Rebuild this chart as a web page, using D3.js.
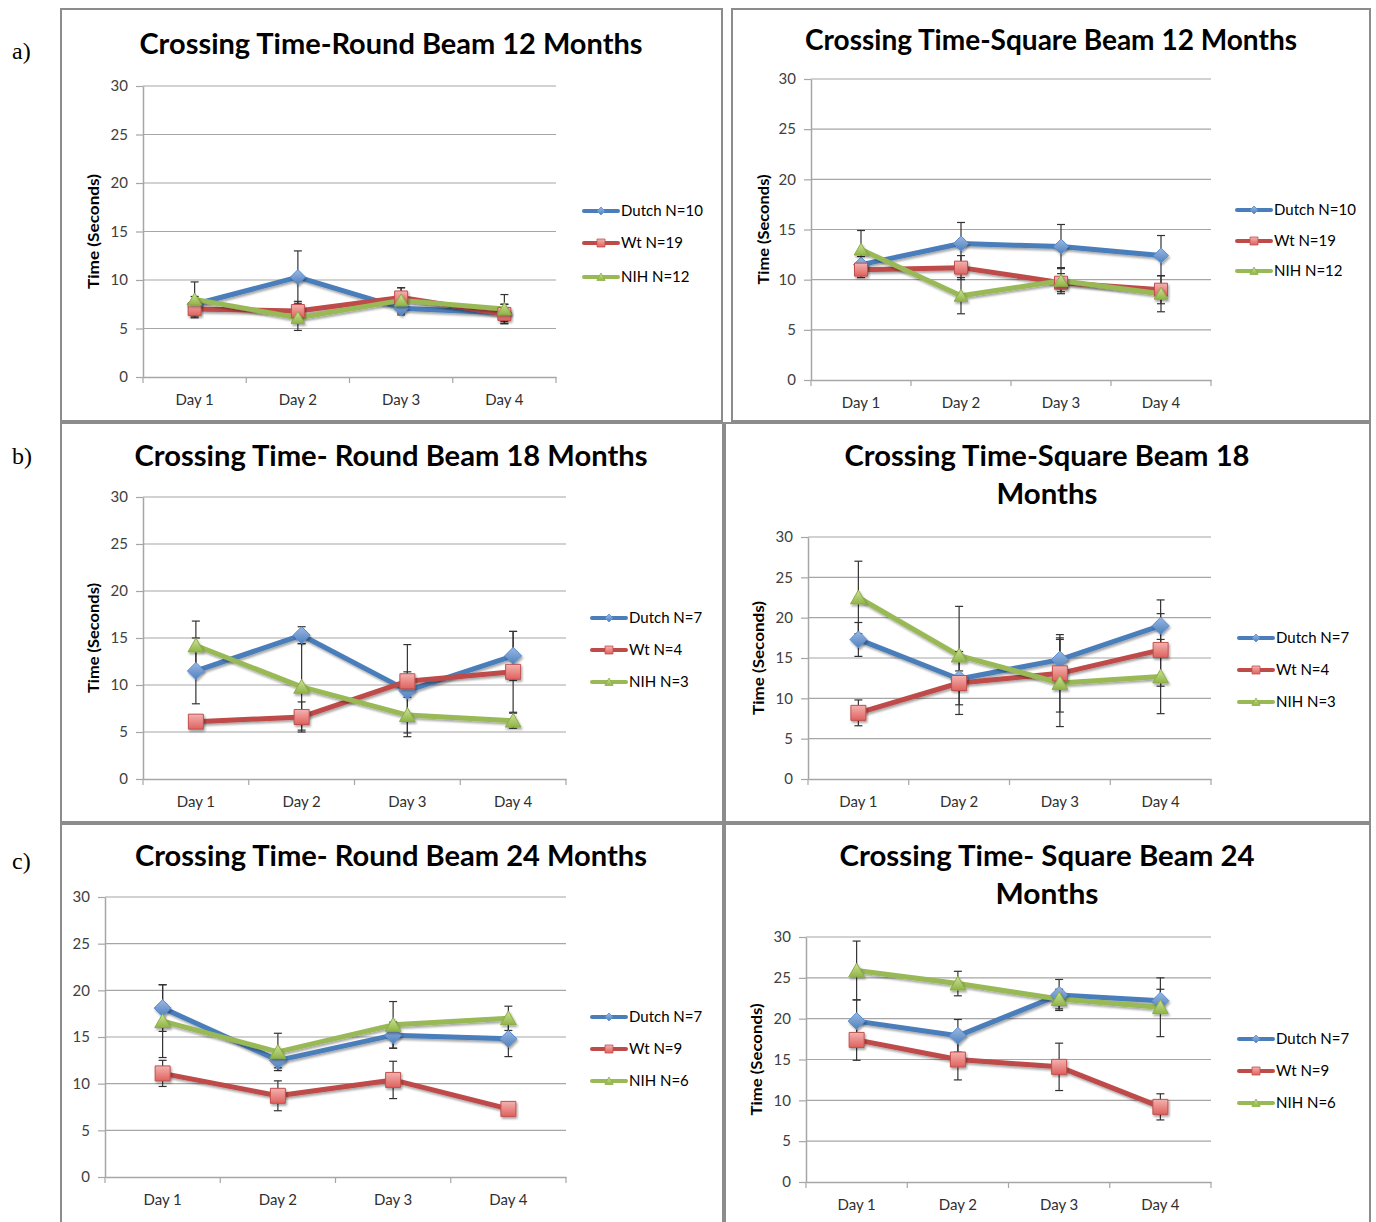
<!DOCTYPE html>
<html>
<head>
<meta charset="utf-8">
<script src="https://cdn.jsdelivr.net/npm/d3@7"></script>
<style>
  html, body { margin: 0; padding: 0; background: #fff; }
  svg { display: block; }
</style>
</head>
<body>
<svg id="chart" width="1376" height="1222"></svg>
<script>
// ---------------- DATA ----------------
const days = ["Day 1", "Day 2", "Day 3", "Day 4"];
const yTicks = [0, 5, 10, 15, 20, 25, 30];
const panelLetters = ["a)", "b)", "c)"];

// a) Round beam 12 months
const r12Title = ["Crossing Time-Round Beam 12 Months"];
const r12Legend = ["Dutch N=10", "Wt N=19", "NIH N=12"];
const r12Dutch = [7.5, 10.3, 7.1, 6.6];
const r12DutchErr = [0.8, 2.7, 0.7, 0.9];
const r12Wt = [7.0, 6.8, 8.2, 6.5];
const r12WtErr = [0.9, 1.0, 1.0, 1.0];
const r12Nih = [8.0, 6.1, 7.9, 7.0];
const r12NihErr = [1.8, 1.3, 1.3, 1.5];

// a) Square beam 12 months
const s12Title = ["Crossing Time-Square Beam 12 Months"];
const s12Legend = ["Dutch N=10", "Wt N=19", "NIH N=12"];
const s12Dutch = [11.5, 13.6, 13.3, 12.4];
const s12DutchErr = [0.8, 2.1, 2.2, 2.0];
const s12Wt = [11.0, 11.2, 9.7, 9.0];
const s12WtErr = [0.8, 1.2, 0.9, 1.4];
const s12Nih = [13.0, 8.4, 9.9, 8.6];
const s12NihErr = [1.9, 1.8, 1.3, 1.8];

// b) Round beam 18 months
const r18Title = ["Crossing Time- Round Beam 18 Months"];
const r18Legend = ["Dutch N=7", "Wt N=4", "NIH N=3"];
const r18Dutch = [11.5, 15.3, 9.4, 13.1];
const r18DutchErr = [3.5, 0.9, 4.9, 2.6];
const r18Wt = [6.1, 6.6, 10.4, 11.4];
const r18WtErr = [0.4, 1.6, 1.0, 4.3];
const r18Nih = [14.2, 9.8, 6.8, 6.2];
const r18NihErr = [2.6, 4.6, 1.9, 0.8];

// b) Square beam 18 months
const s18Title = ["Crossing Time-Square Beam 18", "Months"];
const s18Legend = ["Dutch N=7", "Wt N=4", "NIH N=3"];
const s18Dutch = [17.3, 12.4, 14.8, 19.0];
const s18DutchErr = [2.1, 1.0, 2.7, 3.2];
const s18Wt = [8.2, 11.9, 13.1, 16.0];
const s18WtErr = [1.6, 3.9, 4.8, 4.5];
const s18Nih = [22.5, 15.3, 11.9, 12.7];
const s18NihErr = [4.5, 6.1, 5.4, 4.6];

// c) Round beam 24 months
const r24Title = ["Crossing Time- Round Beam 24 Months"];
const r24Legend = ["Dutch N=7", "Wt N=9", "NIH N=6"];
const r24Dutch = [18.1, 12.5, 15.2, 14.8];
const r24DutchErr = [2.5, 0.8, 1.4, 1.9];
const r24Wt = [11.1, 8.7, 10.4, 7.3];
const r24WtErr = [1.4, 1.6, 2.0, 0.4];
const r24Nih = [16.7, 13.4, 16.3, 17.0];
const r24NihErr = [3.9, 2.0, 2.5, 1.3];

// c) Square beam 24 months
const s24Title = ["Crossing Time- Square Beam 24", "Months"];
const s24Legend = ["Dutch N=7", "Wt N=9", "NIH N=6"];
const s24Dutch = [19.7, 17.9, 22.9, 22.2];
const s24DutchErr = [2.6, 2.0, 1.9, 1.4];
const s24Wt = [17.4, 15.0, 14.1, 9.2];
const s24WtErr = [2.5, 2.5, 2.9, 1.6];
const s24Nih = [25.9, 24.3, 22.4, 21.4];
const s24NihErr = [3.6, 1.5, 1.2, 3.6];

const yLabel = "Time (Seconds)";

// ---------------- STYLE ----------------
const FONT = "Lato, 'Open Sans', sans-serif";
const seriesStyle = [
  { key: "dutch", line: "#4a7ebb", shape: "diamond" },
  { key: "wt", line: "#be4b48", shape: "square" },
  { key: "nih", line: "#98b954", shape: "triangle" }
];

const svg = d3.select("#chart");
const defs = svg.append("defs");
const sh = defs.append("filter").attr("id", "shadow")
  .attr("x", "-20%").attr("y", "-20%").attr("width", "140%").attr("height", "160%");
sh.append("feDropShadow").attr("dx", 1.2).attr("dy", 2).attr("stdDeviation", 1.3)
  .attr("flood-color", "#000").attr("flood-opacity", 0.35);

function grad(id, c1, c2) {
  const g = defs.append("linearGradient").attr("id", id)
    .attr("x1", 0).attr("y1", 0).attr("x2", 0).attr("y2", 1);
  g.append("stop").attr("offset", "0%").attr("stop-color", c1);
  g.append("stop").attr("offset", "100%").attr("stop-color", c2);
}
grad("g-dutch", "#9ab8e3", "#4f81bd");
grad("g-wt", "#f3b3b1", "#e0615d");
grad("g-nih", "#cfe39b", "#90b446");
const markerFill = { dutch: "url(#g-dutch)", wt: "url(#g-wt)", nih: "url(#g-nih)" };
const markerStroke = { dutch: "#5b8ed0", wt: "#c0504d", nih: "#8aae45" };

function shapePath(shape, s) {
  const h = s / 2;
  if (shape === "diamond") return `M0,${-h}L${h},0L0,${h}L${-h},0Z`;
  if (shape === "square") return `M${-h},${-h}H${h}V${h}H${-h}Z`;
  return `M0,${-h * 1.0}L${h * 1.05},${h * 0.85}L${-h * 1.05},${h * 0.85}Z`;
}

// ---------------- PANELS ----------------
const panels = [
  { title: r12Title, legend: r12Legend, vals: [r12Dutch, r12Wt, r12Nih], errs: [r12DutchErr, r12WtErr, r12NihErr],
    box: [61, 9, 722, 421], cx: 391, titleY: [54], titleW: [503], x0: 143, x1: 556, yTop: 86, yBot: 377,
    lx: 582, ly: [211, 243, 277], ylx: 93, ylw: 115, ms: 13, lw: 5 },
  { title: s12Title, legend: s12Legend, vals: [s12Dutch, s12Wt, s12Nih], errs: [s12DutchErr, s12WtErr, s12NihErr],
    box: [732, 9, 1370, 421], cx: 1051, titleY: [50], titleW: [492], x0: 811, x1: 1211, yTop: 79, yBot: 380,
    lx: 1235, ly: [210, 241, 271], ylx: 763, ylw: 110, ms: 13, lw: 5 },
  { title: r18Title, legend: r18Legend, vals: [r18Dutch, r18Wt, r18Nih], errs: [r18DutchErr, r18WtErr, r18NihErr],
    box: [61, 423, 723, 822], cx: 391, titleY: [466], titleW: [513], x0: 143, x1: 566, yTop: 497, yBot: 779,
    lx: 590, ly: [618, 650, 682], ylx: 93, ylw: 110, ms: 15, lw: 5 },
  { title: s18Title, legend: s18Legend, vals: [s18Dutch, s18Wt, s18Nih], errs: [s18DutchErr, s18WtErr, s18NihErr],
    box: [725, 423, 1370, 822], cx: 1047, titleY: [466, 504], titleW: [405, 101], x0: 808, x1: 1211, yTop: 537, yBot: 779,
    lx: 1237, ly: [638, 670, 702], ylx: 758, ylw: 114, ms: 15, lw: 5 },
  { title: r24Title, legend: r24Legend, vals: [r24Dutch, r24Wt, r24Nih], errs: [r24DutchErr, r24WtErr, r24NihErr],
    box: [61, 824, 723, 1232], cx: 391, titleY: [866], titleW: [512], x0: 105, x1: 566, yTop: 897, yBot: 1177,
    lx: 590, ly: [1017, 1049, 1081], ylx: null, ylw: 0, ms: 15, lw: 5 },
  { title: s24Title, legend: s24Legend, vals: [s24Dutch, s24Wt, s24Nih], errs: [s24DutchErr, s24WtErr, s24NihErr],
    box: [725, 824, 1370, 1232], cx: 1047, titleY: [866, 904], titleW: [415, 103], x0: 806, x1: 1211, yTop: 937, yBot: 1182,
    lx: 1237, ly: [1039, 1071, 1103], ylx: 756, ylw: 112, ms: 15, lw: 5 }
];

// panel letters
[[12, 59], [12, 464], [12, 869]].forEach((p, i) => {
  svg.append("text").attr("x", p[0]).attr("y", p[1])
    .attr("font-family", "'Liberation Serif', 'Times New Roman', serif")
    .attr("font-size", 24).attr("fill", "#000").text(panelLetters[i]);
});

panels.forEach(drawPanel);

function drawPanel(p) {
  const g = svg.append("g");
  const [bx0, by0, bx1, by1] = p.box;
  // frame
  g.append("rect").attr("x", bx0).attr("y", by0).attr("width", bx1 - bx0).attr("height", by1 - by0)
    .attr("fill", "#fff").attr("stroke", "#8c8c8c").attr("stroke-width", 2);

  // title
  p.title.forEach((t, i) => {
    g.append("text").attr("x", p.cx).attr("y", p.titleY[i]).attr("text-anchor", "middle")
      .attr("font-family", FONT).attr("font-weight", 700).attr("font-size", 28)
      .attr("textLength", p.titleW[i]).attr("lengthAdjust", "spacingAndGlyphs")
      .attr("fill", "#000").text(t);
  });

  const x = d3.scaleBand().domain(days).range([p.x0, p.x1]);
  const y = d3.scaleLinear().domain([0, 30]).range([p.yBot, p.yTop]);
  const cxOf = d => x(d) + x.bandwidth() / 2;

  // gridlines
  g.append("g").selectAll("line").data(yTicks.filter(v => v > 0)).join("line")
    .attr("x1", p.x0).attr("x2", p.x1).attr("y1", d => y(d)).attr("y2", d => y(d))
    .attr("stroke", "#a6a6a6").attr("stroke-width", 1.2);

  // y axis
  const ya = g.append("g").attr("transform", `translate(${p.x0},0)`)
    .call(d3.axisLeft(y).tickValues(yTicks).tickSize(7).tickSizeOuter(0).tickPadding(8));
  ya.select(".domain").attr("stroke", "#a6a6a6").attr("stroke-width", 1.5);
  ya.selectAll(".tick line").attr("stroke", "#a6a6a6").attr("stroke-width", 1.2);
  ya.selectAll(".tick text").attr("font-family", FONT).attr("font-size", 15).attr("fill", "#404040");

  // x axis
  const xa = g.append("g").attr("transform", `translate(0,${p.yBot})`)
    .call(d3.axisBottom(x).tickSize(0).tickSizeOuter(0).tickPadding(17));
  xa.select(".domain").attr("stroke", "#a6a6a6").attr("stroke-width", 1.5);
  xa.selectAll(".tick text").attr("font-family", FONT).attr("font-size", 15).attr("fill", "#303030");
  const bounds = days.map(d => x(d)).concat([p.x1]);
  g.append("g").selectAll("line").data(bounds).join("line")
    .attr("x1", d => d).attr("x2", d => d).attr("y1", p.yBot).attr("y2", p.yBot + 6)
    .attr("stroke", "#a6a6a6").attr("stroke-width", 1.2);

  // y label
  if (p.ylx !== null) {
    const cy = (p.yTop + p.yBot) / 2;
    g.append("text").attr("transform", `translate(${p.ylx + 6},${cy}) rotate(-90)`)
      .attr("text-anchor", "middle").attr("font-family", FONT).attr("font-weight", 700)
      .attr("font-size", 16).attr("textLength", p.ylw).attr("lengthAdjust", "spacingAndGlyphs")
      .attr("fill", "#000").text(yLabel);
  }

  // lines
  const line = d3.line().x((d, i) => cxOf(days[i])).y(d => y(d));
  seriesStyle.forEach((s, si) => {
    g.append("path").datum(p.vals[si]).attr("d", line)
      .attr("fill", "none").attr("stroke", s.line).attr("stroke-width", p.lw)
      .attr("stroke-linejoin", "round").attr("filter", "url(#shadow)");
  });

  // error bars
  seriesStyle.forEach((s, si) => {
    const eg = g.append("g");
    p.vals[si].forEach((v, i) => {
      const e = p.errs[si][i];
      const cx = cxOf(days[i]);
      eg.append("line").attr("x1", cx).attr("x2", cx).attr("y1", y(v - e)).attr("y2", y(v + e))
        .attr("stroke", "#333").attr("stroke-width", 1.2);
      [v - e, v + e].forEach(t => {
        eg.append("line").attr("x1", cx - 4).attr("x2", cx + 4).attr("y1", y(t)).attr("y2", y(t))
          .attr("stroke", "#333").attr("stroke-width", 1.2);
      });
    });
  });

  // markers
  seriesStyle.forEach((s, si) => {
    g.append("g").selectAll("path").data(p.vals[si]).join("path")
      .attr("transform", (d, i) => `translate(${cxOf(days[i])},${y(d)})`)
      .attr("d", shapePath(s.shape, s.shape === "diamond" ? p.ms + 2 : p.ms))
      .attr("fill", markerFill[s.key]).attr("stroke", markerStroke[s.key]).attr("stroke-width", 1)
      .attr("filter", "url(#shadow)");
  });

  // legend
  seriesStyle.forEach((s, si) => {
    const ly = p.ly[si];
    const lg = g.append("g");
    lg.append("rect").attr("x", p.lx).attr("y", ly - 2).attr("width", 38).attr("height", 4)
      .attr("rx", 2).attr("fill", s.line);
    lg.append("path").attr("transform", `translate(${p.lx + 19},${ly})`)
      .attr("d", shapePath(s.shape, 8))
      .attr("fill", markerFill[s.key]).attr("stroke", markerStroke[s.key]).attr("stroke-width", 0.8);
    lg.append("text").attr("x", p.lx + 39).attr("y", ly).attr("dy", "0.35em")
      .attr("font-family", FONT).attr("font-size", 15).attr("fill", "#000").text(p.legend[si]);
  });
}
</script>
</body>
</html>
